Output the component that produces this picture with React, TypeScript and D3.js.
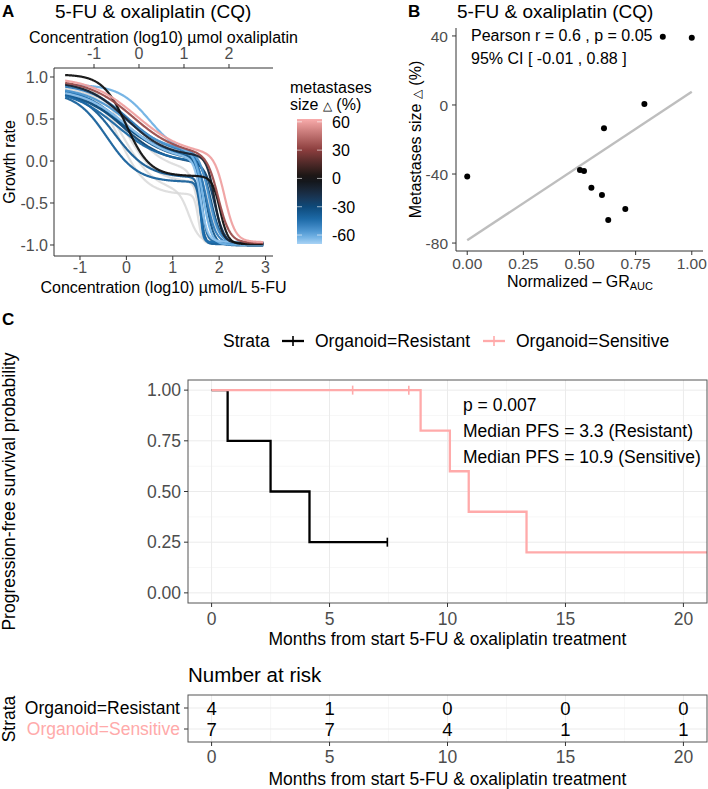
import React from 'react';
import * as d3 from 'd3';

const FONT = "'Liberation Sans', Arial, Helvetica, sans-serif";
const GREY_TXT = '#4D4D4D';

// ---------- panel A: fitted biphasic GR curves, one per organoid ----------
// metastases size change (%) per organoid, null = not available (grey)
const metSize: (number | null)[] = [null, null, null, null, null, -28, -32, -35, -38, -40, -42, -45, -48, -55, -62, -66, -10, 0, 35, 60];
const grTop = [0.92, 0.9, 0.95, 0.88, 0.93, 0.87, 0.86, 0.88, 0.84, 0.82, 0.85, 0.9, 0.92, 0.88, 0.91, 0.86, 0.95, 1.03, 0.97, 1.0];
const grMid = [-0.4, -0.36, -0.12, 0.02, -0.25, -0.03, 0.02, 0.0, -0.2, -0.25, -0.02, 0.04, 0.08, 0.1, 0.06, 0.0, 0.05, -0.18, 0.07, 0.07];
const grBot = [-0.98, -0.97, -0.99, -0.98, -0.99, -1.0, -0.99, -1.01, -0.98, -0.99, -0.97, -0.98, -0.99, -0.98, -1.0, -0.97, -0.98, -0.99, -0.98, -0.97];
const ec1 = [-0.15, -0.05, 0.05, 0.15, 0.0, -0.1, -0.1, -0.05, -0.25, -0.42, -0.2, -0.1, 0.05, 0.0, 0.5, 0.0, 0.0, 0.0, 0.15, 0.22];
const hill1 = [1.5, 1.3, 1.1, 1.0, 1.4, 0.95, 0.85, 0.9, 1.2, 1.3, 0.9, 0.9, 1.0, 0.95, 1.3, 0.9, 1.0, 1.7, 0.9, 0.85];
const ec2 = [1.55, 1.35, 1.55, 1.75, 1.62, 1.9, 1.82, 1.72, 1.6, 1.6, 1.62, 1.58, 1.72, 1.78, 1.66, 1.6, 1.9, 2.02, 1.98, 2.12];
const hill2 = [10, 4, 5, 3.5, 6, 4, 4, 5, 10, 10, 8, 14, 4, 4, 5, 6, 5, 5, 3.5, 3.8];
const concRange = [-1.32, 2.95];
const aYTicks = [-1, -0.5, 0, 0.5, 1];
const aXTicks = [-1, 0, 1, 2, 3];
const aTopTicks = [-1, 0, 1, 2];
const legendTicks = [-60, -30, 0, 30, 60];

// ---------- panel B ----------
const grAuc = [0.0, 0.871, 1.0, 0.789, 0.609, 0.502, 0.52, 0.553, 0.6, 0.704, 0.628];
const metDelta = [-41.5, 39.5, 39, 0.5, -13.5, -37.7, -38.3, -47.9, -52.2, -60.3, -66.6];
const bXTicks = [0, 0.25, 0.5, 0.75, 1];
const bYTicks = [-80, -40, 0, 40];

// ---------- panel C: progression-free survival ----------
const strata = ['Organoid=Resistant', 'Organoid=Sensitive'];
const strataColor = ['#000000', '#FFAAAA'];
const resTime = [0.68, 2.5, 4.15, 7.45];
const resEvent = [1, 1, 1, 0];
const senTime = [5.98, 8.36, 8.86, 10.1, 10.9, 13.35, 23];
const senEvent = [0, 0, 1, 1, 1, 1, 0];
const kmXTicks = [0, 5, 10, 15, 20];
const kmYTicks = [0, 0.25, 0.5, 0.75, 1];

const f1 = (v: number) => d3.format('.1f')(v).replace('−', '-');
const f2 = (v: number) => d3.format('.2f')(v).replace('−', '-');
const f0 = (v: number) => String(v);

function kaplanMeier(times: number[], events: number[]) {
  const idx = d3.range(times.length).sort((a, b) => times[a] - times[b]);
  let s = 1;
  const steps: [number, number][] = [[0, 1]];
  const censors: [number, number][] = [];
  idx.forEach((i, k) => {
    const nRisk = times.length - k;
    if (events[i] === 1) {
      s = s * (1 - 1 / nRisk);
      steps.push([times[i], s]);
    } else {
      censors.push([times[i], s]);
    }
  });
  steps.push([d3.max(times) as number, s]);
  return { steps, censors };
}

export default function App() {
  // --- panel A scales
  const ax = d3.scaleLinear().domain([-1.56, 3.16]).range([54, 273]);
  const axTop = d3.scaleLinear().domain([-1.889, 2.978]).range([54, 273]);
  const ay = d3.scaleLinear().domain([-1.131, 1.107]).range([256, 68]);
  const color = d3.scaleLinear<string>()
    .domain([-69.5, -60, -45, -30, 0, 30, 63])
    .range(['#a9d3f5', '#5fa8e0', '#1f6fae', '#0d4a7a', '#111111', '#8b3d3d', '#f9acac'])
    .interpolate(d3.interpolateLab);
  const cb = d3.scaleLinear().domain([-69.5, 63]).range([244, 119]);

  const gr = (i: number, x: number) =>
    grTop[i] - (grTop[i] - grMid[i]) / (1 + Math.pow(10, hill1[i] * (ec1[i] - x)))
    - (grMid[i] - grBot[i]) / (1 + Math.pow(10, hill2[i] * (ec2[i] - x)));
  const conc = d3.range(concRange[0], concRange[1] + 1e-9, 0.01);

  // --- panel B scales
  const bx = d3.scaleLinear().domain([-0.05, 1.05]).range([456, 703]);
  const by = d3.scaleLinear().domain([-84.6, 44.6]).range([251, 28]);
  const mx = d3.mean(grAuc) as number;
  const my = d3.mean(metDelta) as number;
  const slope = d3.sum(grAuc, (v, i) => (v - mx) * (metDelta[i] - my)) / d3.sum(grAuc, v => (v - mx) ** 2);
  const icpt = my - slope * mx;
  const [xmin, xmax] = d3.extent(grAuc) as [number, number];

  // --- panel C scales
  const kx = d3.scaleLinear().domain([-1, 21]).range([188, 707]);
  const ky = d3.scaleLinear().domain([-0.05, 1.05]).range([603, 380]);
  const km = [kaplanMeier(resTime, resEvent), kaplanMeier(senTime, senEvent)];
  const kmTimes = [resTime, senTime];
  const stepLine = d3.line<[number, number]>().x(d => kx(d[0])).y(d => ky(d[1])).curve(d3.curveStepAfter);
  const rowY = d3.scalePoint<string>().domain(strata).range([708, 729]);
  const kmMinor = [2.5, 7.5, 12.5, 17.5];
  const kmYMinor = [0.125, 0.375, 0.625, 0.875];

  const stops = d3.range(0, 1.0001, 0.05).map(t => ({ t, c: color(-69.5 + t * (63 + 69.5)) }));

  return (
    <svg width={708} height={789} style={{ position: 'absolute', left: 0, top: 0, background: '#fff' }}
      fontFamily={FONT}>
      <defs>
        <linearGradient id="cbar" x1="0" y1="1" x2="0" y2="0">
          {stops.map(s => <stop key={s.t} offset={s.t} stopColor={s.c} />)}
        </linearGradient>
        <clipPath id="kmclip"><rect x={188} y={380} width={519} height={223} /></clipPath>
      </defs>

      {/* ================= Panel A ================= */}
      <text x={2} y={17} fontSize={17} fontWeight="bold">A</text>
      <text x={55} y={17.5} fontSize={19}>5-FU &amp; oxaliplatin (CQ)</text>
      <text x={163.5} y={43} fontSize={16} textAnchor="middle">Concentration (log10) µmol oxaliplatin</text>
      {aTopTicks.map(t => (
        <g key={'at' + t}>
          <line x1={axTop(t)} x2={axTop(t)} y1={68} y2={64} stroke="#333" />
          <text x={axTop(t)} y={59} fontSize={16} fill={GREY_TXT} textAnchor="middle">{f0(t)}</text>
        </g>
      ))}
      <g>
        {metSize.map((m, i) => (
          <path key={'c' + i}
            d={d3.line<number>().x(c => ax(c)).y(c => ay(gr(i, c)))(conc) || ''}
            fill="none" stroke={m === null ? '#d9d9d9' : color(m)} strokeWidth={2.2}
            strokeOpacity={m === null ? 0.85 : 0.95} />
        ))}
      </g>
      <line x1={54} x2={273} y1={68} y2={68} stroke="#333" />
      <line x1={54} x2={273} y1={256} y2={256} stroke="#333" />
      <line x1={54} x2={54} y1={68} y2={256} stroke="#333" />
      {aYTicks.map(t => (
        <g key={'ay' + t}>
          <line x1={50} x2={54} y1={ay(t)} y2={ay(t)} stroke="#333" />
          <text x={48} y={ay(t) + 5.8} fontSize={16} fill={GREY_TXT} textAnchor="end">{f1(t)}</text>
        </g>
      ))}
      {aXTicks.map(t => (
        <g key={'ax' + t}>
          <line x1={ax(t)} x2={ax(t)} y1={256} y2={260} stroke="#333" />
          <text x={ax(t)} y={273} fontSize={16} fill={GREY_TXT} textAnchor="middle">{f0(t)}</text>
        </g>
      ))}
      <text x={163.5} y={293} fontSize={16} textAnchor="middle">Concentration (log10) µmol/L 5-FU</text>
      <text transform="translate(15,162) rotate(-90)" fontSize={16} textAnchor="middle">Growth rate</text>

      {/* colour legend */}
      <text x={290} y={93} fontSize={16}>metastases</text>
      <text x={290} y={110} fontSize={16}>size <tspan fontSize={12}>△</tspan> (%)</text>
      <rect x={297} y={119} width={25} height={125} fill="url(#cbar)" />
      {legendTicks.map(t => (
        <g key={'lg' + t}>
          <line x1={297} x2={302} y1={cb(t)} y2={cb(t)} stroke="#fff" strokeOpacity={0.6} />
          <line x1={317} x2={322} y1={cb(t)} y2={cb(t)} stroke="#fff" strokeOpacity={0.6} />
          <text x={332} y={cb(t) + 5.8} fontSize={16}>{f0(t)}</text>
        </g>
      ))}

      {/* ================= Panel B ================= */}
      <text x={408} y={17} fontSize={17} fontWeight="bold">B</text>
      <text x={457} y={17.5} fontSize={19}>5-FU &amp; oxaliplatin (CQ)</text>
      <line x1={bx(xmin)} x2={bx(xmax)} y1={by(icpt + slope * xmin)} y2={by(icpt + slope * xmax)}
        stroke="#BEBEBE" strokeWidth={2.4} />
      {grAuc.map((v, i) => (
        <circle key={'p' + i} cx={bx(v)} cy={by(metDelta[i])} r={3} fill="#000" />
      ))}
      <text x={471} y={41} fontSize={16}>Pearson r = 0.6 , p = 0.05</text>
      <text x={471} y={64} fontSize={16}>95% CI [ -0.01 ,  0.88 ]</text>
      <line x1={456} x2={456} y1={28} y2={251} stroke="#333" />
      <line x1={456} x2={703} y1={251} y2={251} stroke="#333" />
      {bYTicks.map(t => (
        <g key={'by' + t}>
          <line x1={452} x2={456} y1={by(t)} y2={by(t)} stroke="#333" />
          <text x={448} y={by(t) + 5.6} fontSize={15.5} fill={GREY_TXT} textAnchor="end">{f0(t)}</text>
        </g>
      ))}
      {bXTicks.map(t => (
        <g key={'bx' + t}>
          <line x1={bx(t)} x2={bx(t)} y1={251} y2={255} stroke="#333" />
          <text x={bx(t)} y={269} fontSize={15.5} fill={GREY_TXT} textAnchor="middle">{f2(t)}</text>
        </g>
      ))}
      <text x={580} y={287} fontSize={16} textAnchor="middle">
        Normalized – GR<tspan fontSize={11} dy={3}>AUC</tspan>
      </text>
      <text transform="translate(421,139.5) rotate(-90)" fontSize={16} textAnchor="middle">
        Metastases size <tspan fontSize={12}>△</tspan> (%)
      </text>

      {/* ================= Panel C ================= */}
      <text x={2} y={325} fontSize={17} fontWeight="bold">C</text>
      <text x={223} y={347} fontSize={17.5}>Strata</text>
      {strata.map((s, i) => {
        const x0 = i === 0 ? 282 : 483;
        return (
          <g key={'lk' + i}>
            <line x1={x0} x2={x0 + 22} y1={341} y2={341} stroke={strataColor[i]} strokeWidth={2.3} />
            <line x1={x0 + 11} x2={x0 + 11} y1={336} y2={346} stroke={strataColor[i]} strokeWidth={1.6} />
            <text x={x0 + 33} y={347} fontSize={17.5}>{s}</text>
          </g>
        );
      })}

      {/* grid */}
      {kmMinor.map(t => <line key={'mxg' + t} x1={kx(t)} x2={kx(t)} y1={380} y2={603} stroke="#F5F5F5" strokeWidth={0.8} />)}
      {kmYMinor.map(t => <line key={'myg' + t} x1={188} x2={707} y1={ky(t)} y2={ky(t)} stroke="#F5F5F5" strokeWidth={0.8} />)}
      {kmXTicks.map(t => <line key={'xg' + t} x1={kx(t)} x2={kx(t)} y1={380} y2={603} stroke="#EBEBEB" />)}
      {kmYTicks.map(t => <line key={'yg' + t} x1={188} x2={707} y1={ky(t)} y2={ky(t)} stroke="#EBEBEB" />)}

      <g clipPath="url(#kmclip)">
        {km.map((k, i) => (
          <g key={'km' + i}>
            <path d={stepLine(k.steps) || ''} fill="none" stroke={strataColor[i]} strokeWidth={2.3} />
            {k.censors.map((c, j) => (
              <line key={j} x1={kx(c[0])} x2={kx(c[0])} y1={ky(c[1]) - 4.5} y2={ky(c[1]) + 4.5}
                stroke={strataColor[i]} strokeWidth={1.6} />
            ))}
          </g>
        ))}
      </g>
      <rect x={188} y={380} width={519} height={223} fill="none" stroke="#555" strokeWidth={1} />
      {kmYTicks.map(t => (
        <g key={'ky' + t}>
          <line x1={184} x2={188} y1={ky(t)} y2={ky(t)} stroke="#333" />
          <text x={181} y={ky(t) + 6.3} fontSize={17.5} fill={GREY_TXT} textAnchor="end">{f2(t)}</text>
        </g>
      ))}
      {kmXTicks.map(t => (
        <g key={'kx' + t}>
          <line x1={kx(t)} x2={kx(t)} y1={603} y2={607} stroke="#333" />
          <text x={kx(t)} y={624.5} fontSize={17.5} fill={GREY_TXT} textAnchor="middle">{f0(t)}</text>
        </g>
      ))}
      <text x={447.5} y={645} fontSize={17.5} textAnchor="middle">Months from start 5-FU &amp; oxaliplatin treatment</text>
      <text transform="translate(15,491.5) rotate(-90)" fontSize={17.5} textAnchor="middle">Progression-free survival probability</text>
      <text x={463} y={411} fontSize={17.5}>p = 0.007</text>
      <text x={463} y={437} fontSize={17.5}>Median PFS = 3.3 (Resistant)</text>
      <text x={463} y={463} fontSize={17.5}>Median PFS = 10.9 (Sensitive)</text>

      {/* ================= risk table ================= */}
      <text x={188} y={682} fontSize={20.5}>Number at risk</text>
      {kmMinor.map(t => <line key={'rmg' + t} x1={kx(t)} x2={kx(t)} y1={695} y2={742} stroke="#F5F5F5" strokeWidth={0.8} />)}
      {kmXTicks.map(t => <line key={'rg' + t} x1={kx(t)} x2={kx(t)} y1={695} y2={742} stroke="#EBEBEB" />)}
      {strata.map(s => <line key={'rh' + s} x1={188} x2={707} y1={rowY(s)} y2={rowY(s)} stroke="#EBEBEB" />)}
      {strata.map((s, i) => (
        <g key={'row' + i}>
          {kmXTicks.map(t => (
            <text key={t} x={kx(t)} y={(rowY(s) as number) + 6.7} fontSize={18.5} textAnchor="middle">
              {kmTimes[i].filter(v => v >= t).length}
            </text>
          ))}
          <line x1={184} x2={188} y1={rowY(s)} y2={rowY(s)} stroke="#333" />
          <text x={180} y={(rowY(s) as number) + 6.3} fontSize={17.5} textAnchor="end" fill={strataColor[i]}>{s}</text>
        </g>
      ))}
      <rect x={188} y={695} width={519} height={47} fill="none" stroke="#555" strokeWidth={1} />
      {kmXTicks.map(t => (
        <g key={'rx' + t}>
          <line x1={kx(t)} x2={kx(t)} y1={742} y2={746} stroke="#333" />
          <text x={kx(t)} y={763} fontSize={17.5} fill={GREY_TXT} textAnchor="middle">{f0(t)}</text>
        </g>
      ))}
      <text x={447.5} y={785} fontSize={17.5} textAnchor="middle">Months from start 5-FU &amp; oxaliplatin treatment</text>
      <text transform="translate(15,719) rotate(-90)" fontSize={17.5} textAnchor="middle">Strata</text>
    </svg>
  );
}
